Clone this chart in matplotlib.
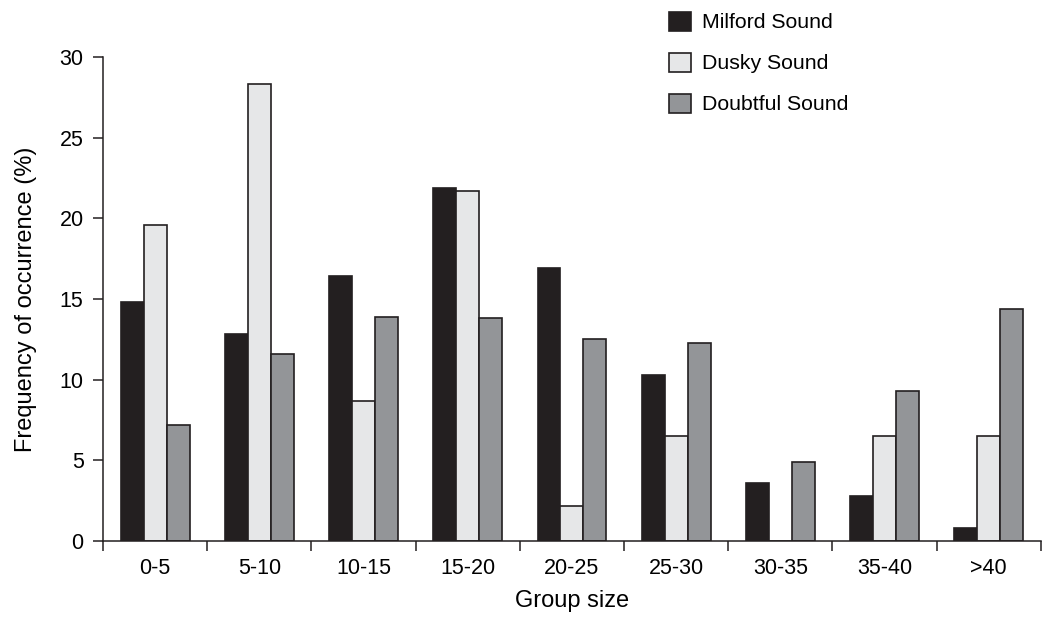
import numpy as np
import matplotlib
matplotlib.use("Agg")
import matplotlib.pyplot as plt
from matplotlib.patches import Patch

plt.rcParams['font.family'] = ['Liberation Sans', 'DejaVu Sans']

groups = ["0-5", "5-10", "10-15", "15-20", "20-25", "25-30", "30-35", "35-40", ">40"]
milford = [14.8, 12.8, 16.4, 21.9, 16.9, 10.3, 3.6, 2.8, 0.8]
dusky = [19.6, 28.3, 8.7, 21.7, 2.2, 6.5, 0.0, 6.5, 6.5]
doubtful = [7.2, 11.6, 13.9, 13.8, 12.5, 12.3, 4.9, 9.3, 14.4]

series = [("Milford Sound", milford, "#231f20"),
          ("Dusky Sound", dusky, "#e6e7e8"),
          ("Doubtful Sound", doubtful, "#939598")]

edge = "#231f20"
fig = plt.figure(figsize=(10.42, 6.22), dpi=100)
ax = fig.add_axes([0.0989, 0.1302, 0.9, 0.7782])

centers = np.arange(len(groups)) + 0.5
w = 0.22
for i, (name, vals, col) in enumerate(series):
    ax.bar(centers + (i - 1) * w, vals, width=w, color=col,
           edgecolor=edge, linewidth=1.2)

ax.set_xlim(0, len(groups))
ax.set_ylim(0, 30)
ax.set_yticks([0, 5, 10, 15, 20, 25, 30])
ax.set_xticks(np.arange(len(groups) + 1))
ax.set_xticklabels([])
ax.set_xticks(centers, minor=True)
ax.set_xticklabels(groups, minor=True)
ax.tick_params(axis='x', which='minor', length=0, pad=12, labelsize=15.5)
ax.tick_params(axis='x', which='major', length=7, width=1.1, color=edge)
ax.tick_params(axis='y', length=7, width=1.1, color=edge, labelsize=15.5, pad=7)

for s in ['top', 'right']:
    ax.spines[s].set_visible(False)
for s in ['left', 'bottom']:
    ax.spines[s].set_color(edge)
    ax.spines[s].set_linewidth(1.1)

ax.set_xlabel("Group size", fontsize=17, labelpad=8)
ax.set_ylabel("Frequency of occurrence (%)", fontsize=17, labelpad=16)

handles = [Patch(facecolor=c, edgecolor=edge, linewidth=1.2) for _, _, c in series]
fig.legend(handles, [s[0] for s in series], loc='upper left',
           bbox_to_anchor=(0.624, 1.012), frameon=False, fontsize=15.3,
           handlelength=1.0, handleheight=1.0, labelspacing=0.95, handletextpad=0.55)

fig.savefig("out.png", dpi=100)
